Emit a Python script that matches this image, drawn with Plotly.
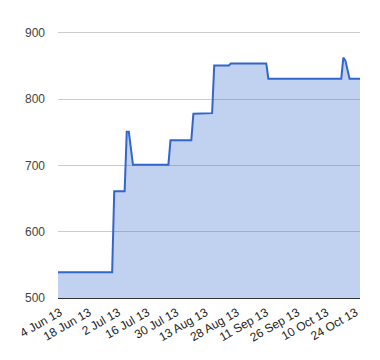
import plotly.graph_objects as go

dates = ["2013-06-04", "2013-06-30", "2013-07-01", "2013-07-06", "2013-07-07", "2013-07-08",
         "2013-07-10", "2013-07-27", "2013-07-28", "2013-08-07", "2013-08-08", "2013-08-11",
         "2013-08-12", "2013-08-17", "2013-08-18", "2013-08-25", "2013-08-26", "2013-09-12",
         "2013-09-13", "2013-10-18", "2013-10-19", "2013-10-20", "2013-10-22", "2013-10-27"]
values = [539, 539, 661, 661, 751, 751, 701, 701, 738, 738, 778, 778,
          779, 779, 851, 851, 854, 854, 831, 831, 863, 858, 831, 831]

tick_dates = ["2013-06-04", "2013-06-18", "2013-07-02", "2013-07-16", "2013-07-30", "2013-08-13",
              "2013-08-28", "2013-09-11", "2013-09-26", "2013-10-10", "2013-10-24"]
tick_labels = ["4 Jun 13", "18 Jun 13", "2 Jul 13", "16 Jul 13", "30 Jul 13", "13 Aug 13",
               "28 Aug 13", "11 Sep 13", "26 Sep 13", "10 Oct 13", "24 Oct 13"]
y_ticks = [500, 600, 700, 800, 900]

fig = go.Figure()
fig.add_trace(go.Scatter(
    x=dates, y=values, mode="lines", fill="tozeroy",
    line=dict(color="#3366cc", width=2),
    fillcolor="rgba(51,102,204,0.3)",
    hoverinfo="skip",
))

fig.update_layout(
    width=372, height=352,
    margin=dict(l=50, r=20, t=23, b=62, autoexpand=False),
    paper_bgcolor="white", plot_bgcolor="white",
    showlegend=False,
    font=dict(family="Liberation Sans, Arial, sans-serif", size=12, color="#222"),
)
fig.update_xaxes(
    type="date",
    range=["2013-06-04", "2013-10-27"],
    tickmode="array", tickvals=tick_dates, ticktext=tick_labels,
    tickangle=-30, showgrid=False, zeroline=False,
    showline=True, linecolor="#333", linewidth=1,
    ticks="", ticklabelstandoff=2, ticklabelshift=2,
    tickfont=dict(size=12, color="#222"),
    automargin=False,
)
fig.update_yaxes(
    range=[500, 903],
    tickmode="array", tickvals=y_ticks,
    showgrid=True, gridcolor="#cccccc", gridwidth=1,
    zeroline=False, showline=False, ticks="",
    ticklabelstandoff=12,
    tickfont=dict(size=12, color="#444"),
    automargin=False,
)

fig.write_html("out.html")
